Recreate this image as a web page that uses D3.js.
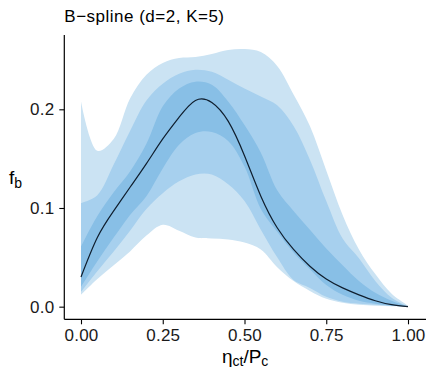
<!DOCTYPE html>
<meta charset="utf-8">
<style>
  body { margin: 0; background: #fff; }
  svg { display: block; }
  text { font-family: "Liberation Sans", Arial, sans-serif; }
  .tick text { font-size: 17px; fill: #1a1a1a; letter-spacing: 0.2px; }
  .tick line { stroke: #000; stroke-width: 1.1px; }
</style>
<body>
<svg width="428" height="374"></svg>
<script src="https://d3js.org/d3.v7.min.js"></script>
<script>
// eta_ct / P_c grid
const xs = [0, 0.05, 0.1, 0.15, 0.2, 0.25, 0.3, 0.35, 0.4, 0.45, 0.5,
            0.55, 0.6, 0.65, 0.7, 0.75, 0.8, 0.85, 0.9, 0.95, 1];
// posterior median of f_b
const median = [0.030, 0.070, 0.097, 0.121, 0.145, 0.170, 0.192, 0.209, 0.207, 0.188, 0.153,
                0.112, 0.080, 0.058, 0.041, 0.028, 0.019, 0.012, 0.006, 0.002, 0.000];
// widest interval
const outerLower = [0.012, 0.028, 0.042, 0.056, 0.072, 0.083, 0.077, 0.070, 0.069, 0.068, 0.065,
                    0.058, 0.040, 0.026, 0.016, 0.008, 0.004, 0.002, 0.001, 0.0005, 0];
const outerUpper = [0.208, 0.158, 0.170, 0.211, 0.235, 0.247, 0.252, 0.253, 0.256, 0.260, 0.261,
                    0.258, 0.244, 0.215, 0.183, 0.138, 0.093, 0.058, 0.033, 0.013, 0.001];
// middle interval
const midLower = [0.015, 0.036, 0.056, 0.077, 0.099, 0.115, 0.127, 0.134, 0.134, 0.124, 0.107,
                  0.078, 0.050, 0.027, 0.019, 0.010, 0.005, 0.003, 0.002, 0.001, 0];
const midUpper = [0.105, 0.113, 0.144, 0.178, 0.209, 0.226, 0.236, 0.240, 0.238, 0.230, 0.221,
                  0.213, 0.204, 0.183, 0.149, 0.107, 0.069, 0.049, 0.026, 0.009, 0.000];
// narrowest interval
const innerLower = [0.020, 0.046, 0.070, 0.093, 0.112, 0.140, 0.164, 0.176, 0.177, 0.168, 0.142,
                    0.099, 0.076, 0.055, 0.038, 0.022, 0.012, 0.006, 0.003, 0.001, 0];
const innerUpper = [0.061, 0.092, 0.116, 0.137, 0.165, 0.203, 0.221, 0.228, 0.225, 0.208, 0.184,
                    0.156, 0.118, 0.097, 0.078, 0.059, 0.042, 0.026, 0.014, 0.006, 0.000];

const xTicks = [0, 0.25, 0.5, 0.75, 1];
const yTicks = [0, 0.1, 0.2];

const svg = d3.select("svg");
const panel = { left: 64.3, right: 426, top: 35, bottom: 319.3 };

const x = d3.scaleLinear().domain([0, 1]).range([81, 408]);
const y = d3.scaleLinear().domain([-0.0128, 0.2753]).range([panel.bottom, panel.top]);

function band(lower, upper, color) {
  const area = d3.area()
    .x((d, i) => x(xs[i]))
    .y0((d, i) => y(lower[i]))
    .y1((d, i) => y(upper[i]))
    .curve(d3.curveCatmullRom.alpha(0.5));
  svg.append("path")
    .attr("d", area(xs))
    .attr("fill", color);
}

band(outerLower, outerUpper, "#cbe3f3");
band(midLower, midUpper, "#a7d0ee");
band(innerLower, innerUpper, "#88bfe6");

const line = d3.line()
  .x((d, i) => x(xs[i]))
  .y(d => y(d))
  .curve(d3.curveNatural);

svg.append("path")
  .attr("d", line(median))
  .attr("fill", "none")
  .attr("stroke", "#0f1e2e")
  .attr("stroke-width", 1.2);

// axes
const xAxis = svg.append("g")
  .attr("transform", `translate(0,${panel.bottom})`)
  .call(d3.axisBottom(x).tickValues(xTicks).tickFormat(d3.format(".2f")).tickSize(5).tickPadding(5));
xAxis.select(".domain").remove();

const yAxis = svg.append("g")
  .attr("transform", `translate(${panel.left},0)`)
  .call(d3.axisLeft(y).tickValues(yTicks).tickFormat(d3.format(".1f")).tickSize(5).tickPadding(5));
yAxis.select(".domain").remove();

svg.append("line")
  .attr("x1", panel.left).attr("x2", panel.right)
  .attr("y1", panel.bottom).attr("y2", panel.bottom)
  .attr("stroke", "#000").attr("stroke-width", 1.2);
svg.append("line")
  .attr("x1", panel.left).attr("x2", panel.left)
  .attr("y1", panel.top).attr("y2", panel.bottom)
  .attr("stroke", "#000").attr("stroke-width", 1.2);

// title
svg.append("text")
  .attr("x", panel.left)
  .attr("y", 22)
  .attr("font-size", 17)
  .attr("letter-spacing", 0.5)
  .text("B\u2212spline (d=2, K=5)");

// x axis title
const xt = svg.append("text")
  .attr("x", (panel.left + panel.right) / 2)
  .attr("y", 363)
  .attr("text-anchor", "middle")
  .attr("font-size", 19);
xt.append("tspan").text("η");
xt.append("tspan").attr("font-size", 14).attr("dy", 3).text("ct");
xt.append("tspan").attr("dy", -3).text("/P");
xt.append("tspan").attr("font-size", 14).attr("dy", 3).text("c");

// y axis title
const yt = svg.append("text")
  .attr("x", 9)
  .attr("y", 184)
  .attr("font-size", 19);
yt.append("tspan").text("f");
yt.append("tspan").attr("font-size", 14).attr("dy", 4).text("b");
</script>
</body>
